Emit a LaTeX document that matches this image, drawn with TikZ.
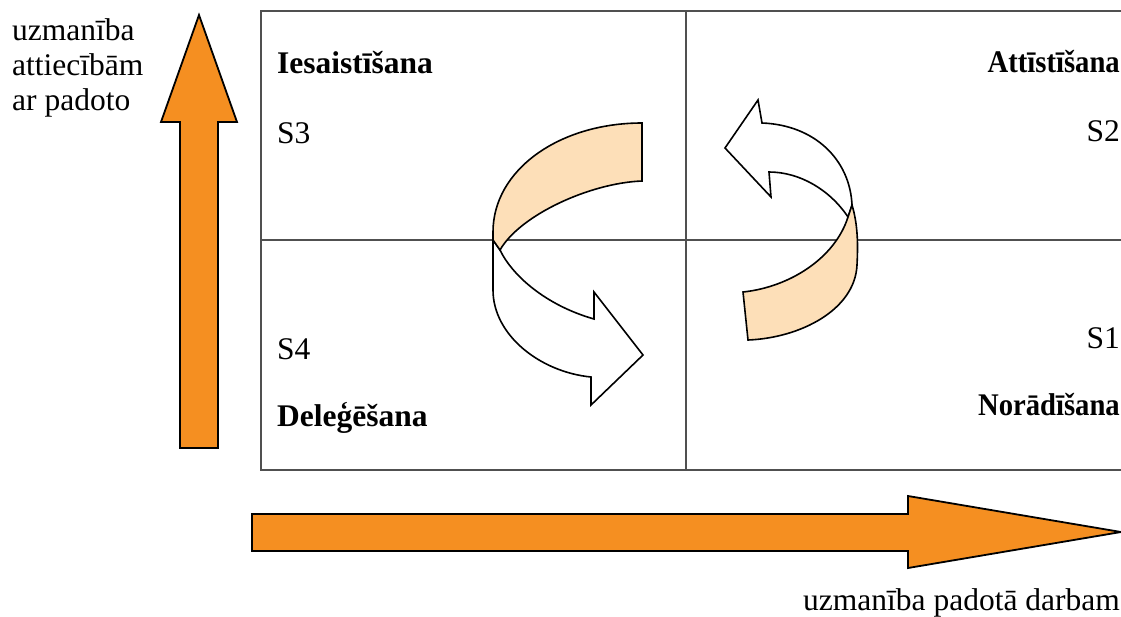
\documentclass[tikz,border=0pt]{standalone}
\usepackage{fontspec}
\setmainfont{Liberation Serif}
\usepackage{tikz}
\usetikzlibrary{positioning}
\definecolor{arroworange}{HTML}{F58F21}
\definecolor{ribbonfill}{HTML}{FDDFB8}
\definecolor{gridgray}{HTML}{505050}
\tikzset{
bigarrow/.style = {draw=black, line width=1.8pt, fill=arroworange, line join=miter},
ribbon/.style = {draw=black, line width=1.6pt, line join=miter},
gridline/.style = {draw=gridgray, line width=1.3pt},
lbl/.style = {inner sep=0pt, font=\fontsize{31.5}{35}\selectfont},
bold lbl/.style = {lbl, font=\fontsize{31.5}{35}\selectfont\bfseries},
narrow/.style = {xscale=0.91, transform shape}
}

\begin{document}
\begin{tikzpicture}[x=1pt, y=-1pt]
            \useasboundingbox (0,0) rectangle (1121,616);
            % quadrant grid
            \draw[gridline] (1121,11) -- (261,11) -- (261,470) -- (1121,470);
            \draw[gridline] (686,11) -- (686,470);
            \draw[gridline] (261,240) -- (1121,240);
            % axis arrows
            \draw[bigarrow] (180,448) -- (180,122) -- (161,122) -- (199,15)
                -- (237,122) -- (218,122) -- (218,448) -- cycle;
            \draw[bigarrow] (252,514) -- (908,514) -- (908,496) -- (1121,532)
                -- (908,568) -- (908,551) -- (252,551) -- cycle;
            % S3 -> S4 turn
            \draw[ribbon, fill=white] (493,240) -- (493,290) .. controls (493,335) and (540,372) .. (591,377)
                -- (591,405) -- (643,355) -- (594,292) -- (594,319)
                .. controls (545,305) and (512,275) .. (500,250) -- cycle;
            \draw[ribbon, fill=ribbonfill] (642,123) .. controls (559,123) and (493,170) .. (493,232)
                -- (493,240) -- (500,250) .. controls (520,215) and (590,183) .. (642,181) -- cycle;
            % S1 -> S2 turn
            \draw[ribbon, fill=white] (848,217) .. controls (830,190) and (800,172) .. (769,172)
                -- (771,197) -- (725,148) -- (758,100) -- (762,123)
                .. controls (815,125) and (850,160) .. (852,205) -- cycle;
            \draw[ribbon, fill=ribbonfill] (852,205) .. controls (858,225) and (858,245) .. (857,265)
                .. controls (855,310) and (800,338) .. (748,340) -- (743,292)
                .. controls (790,287) and (835,258) .. (848,217) -- cycle;
            % quadrant labels
            \node[bold lbl, anchor=base west] (iesaist) at (277,73) {Iesaistīšana};
            \node[lbl, anchor=base west] (s3) at (277,143) {S3};
            \node[lbl, anchor=base west] (s4) at (277,359) {S4};
            \node[bold lbl, anchor=base west] (deleg) at (277,426) {Deleģēšana};
            \node[bold lbl, narrow, anchor=base east] (attist) at (1120,72) {Attīstīšana};
            \node[lbl, anchor=base east] (s2) at (1120,141) {S2};
            \node[lbl, anchor=base east] (s1) at (1120,348) {S1};
            \node[bold lbl, narrow, anchor=base east] (norad) at (1120,415) {Norādīšana};
            % axis labels
            \node[lbl, anchor=base west] (rel1) at (12,40) {uzmanība};
            \node[lbl, anchor=base west] (rel2) at (12,75) {attiecībām};
            \node[lbl, anchor=base west] (rel3) at (12,110) {ar padoto};
            \node[lbl, anchor=base east] (task) at (1120,610) {uzmanība padotā darbam};
        \end{tikzpicture}
\end{document}
